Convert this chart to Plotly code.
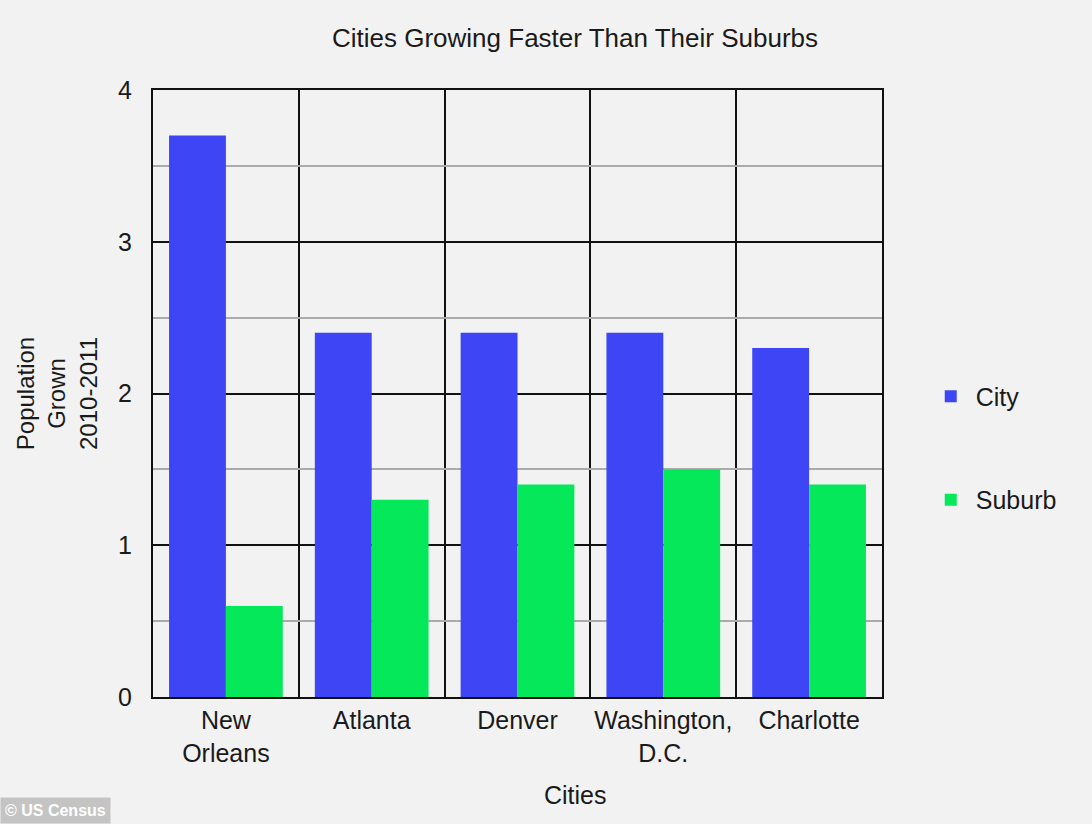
import plotly.graph_objects as go

cities = ["New<br>Orleans", "Atlanta", "Denver", "Washington,<br>D.C.", "Charlotte"]
city_growth = [3.7, 2.4, 2.4, 2.4, 2.3]
suburb_growth = [0.6, 1.3, 1.4, 1.5, 1.4]
y_ticks = [0, 1, 2, 3, 4]

BLUE = "#3d45f4"
GREEN = "#04e85a"
BG = "#f2f2f2"
FONT = "Liberation Sans, Arial, sans-serif"
FS = 25

positions = list(range(len(cities)))

fig = go.Figure()
fig.add_trace(go.Bar(x=positions, y=city_growth, name="City", marker_color=BLUE,
                     marker_line_width=0, legendgroup="city"))
fig.add_trace(go.Bar(x=positions, y=suburb_growth, name="Suburb", marker_color=GREEN,
                     marker_line_width=0, legendgroup="suburb"))

fig.update_layout(
    width=1092, height=824,
    paper_bgcolor=BG, plot_bgcolor=BG,
    margin=dict(l=153, r=210, t=90, b=127),
    barmode="group", bargap=0.22, bargroupgap=0,
    font=dict(family=FONT, size=FS, color="#1a1a1a"),
    title=dict(text="Cities Growing Faster Than Their Suburbs", x=575 / 1092, xanchor="center",
               y=1 - 38 / 824, yanchor="middle", font=dict(size=FS + 1)),
    legend=dict(x=1.06, y=0.533, xanchor="left", yanchor="top", bgcolor="rgba(0,0,0,0)",
                font=dict(size=FS), tracegroupgap=68, traceorder="grouped",
                itemwidth=40),
    showlegend=True,
)

fig.update_xaxes(
    range=[-0.5, len(cities) - 0.5],
    tickmode="array", tickvals=positions, ticktext=cities,
    showgrid=False, zeroline=False,
    showline=True, linecolor="#111", linewidth=2, mirror=True,
    ticks="", ticklabelstandoff=0,
    minor=dict(tick0=0.5, dtick=1, showgrid=True, gridcolor="#111", gridwidth=2, ticks=""),
)
fig.update_yaxes(
    range=[0, 4], tickmode="array", tickvals=y_ticks,
    showgrid=True, gridcolor="#111", gridwidth=2, zeroline=False,
    showline=True, linecolor="#111", linewidth=2, mirror=True,
    ticks="", ticklabelstandoff=14,
    minor=dict(dtick=0.5, showgrid=True, gridcolor="#aaaaaa", gridwidth=1.5, ticks=""),
    title=dict(text="Population<br>Grown<br>2010-2011", standoff=14, font=dict(size=FS - 1)),
)

fig.add_annotation(text="Cities", xref="paper", yref="paper", x=(575 - 153) / 729,
                   y=-(795 - 697) / 607, xanchor="center", yanchor="middle",
                   showarrow=False, font=dict(size=FS))
fig.add_annotation(text="<b>© US Census</b>", xref="paper", yref="paper",
                   x=-153 / 729, y=-(824 - 697) / 607, xanchor="left", yanchor="bottom",
                   showarrow=False, bgcolor="#c4c4c4", borderpad=4,
                   font=dict(size=16, color="#ffffff"))

fig.write_html("out.html")
